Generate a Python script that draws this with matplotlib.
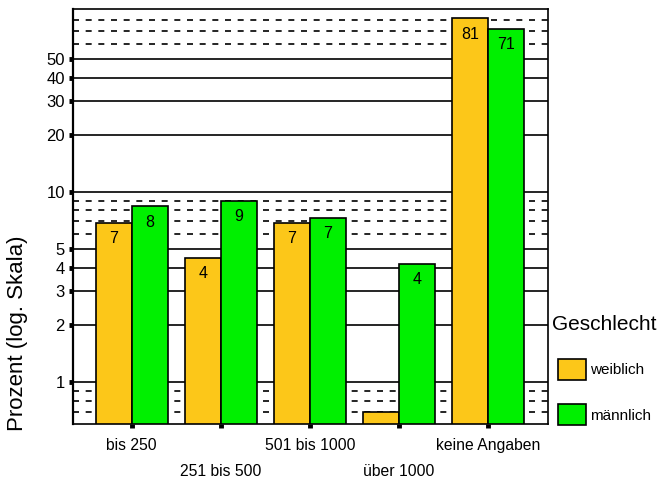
import numpy as np
import matplotlib
matplotlib.use('Agg')
import matplotlib.pyplot as plt
from matplotlib.patches import Patch
from matplotlib.transforms import ScaledTranslation

plt.rcParams['font.family'] = ['Liberation Sans', 'DejaVu Sans']

# Daten
kategorien = ['bis 250', '251 bis 500', '501 bis 1000', 'über 1000', 'keine Angaben']
weiblich = [6.9, 4.5, 6.9, 0.7, 82]
maennlich = [8.4, 9.0, 7.3, 4.2, 72]
weiblich_lbl = ['7', '4', '7', '', '81']
maennlich_lbl = ['8', '9', '7', '4', '71']

y_major = [1, 2, 3, 4, 5, 10, 20, 30, 40, 50]
y_minor = [0.7, 0.8, 0.9, 6, 7, 8, 9, 60, 70, 80]

c_w = '#FCC719'
c_m = '#00F000'

fig = plt.figure(figsize=(6.61, 4.80), dpi=100)
ax = fig.add_axes([0.1109, 0.1160, 0.7175, 0.8658])

x = np.arange(len(kategorien))
w = 0.405
b1 = ax.bar(x - w / 2, weiblich, w, color=c_w, edgecolor='black', linewidth=1.2, zorder=3)
b2 = ax.bar(x + w / 2, maennlich, w, color=c_m, edgecolor='black', linewidth=1.2, zorder=3)

for bars, lbls in [(b1, weiblich_lbl), (b2, maennlich_lbl)]:
    for r, t in zip(bars, lbls):
        if t:
            ax.annotate(t, (r.get_x() + r.get_width() / 2, r.get_height()),
                        xytext=(0, -11.5), textcoords='offset points',
                        ha='center', va='center', fontsize=11.5, zorder=4)

ax.set_yscale('log')
ax.set_ylim(0.6, 92)
ax.set_xlim(-0.656, 4.67)

ax.set_yticks(y_major)
ax.set_yticklabels([str(v) for v in y_major])
ax.set_yticks(y_minor, minor=True)
ax.set_yticklabels([], minor=True)
ax.grid(which='major', axis='y', color='black', linestyle='-', linewidth=1.2, zorder=1)
ax.grid(which='minor', axis='y', color='black', linestyle=(0, (3.6, 4)), linewidth=1.2, zorder=1)
ax.tick_params(axis='y', which='major', length=3, width=3.5, pad=3, labelsize=12)
ax.tick_params(axis='y', which='minor', length=0)

ax.set_xticks(x)
ax.set_xticklabels(kategorien)
ax.tick_params(axis='x', length=3, width=3.5, pad=6.5, labelsize=11.3)
for i, lab in enumerate(ax.get_xticklabels()):
    if i % 2 == 1:
        lab.set_transform(lab.get_transform() + ScaledTranslation(0, -0.265, fig.dpi_scale_trans))

for s in ax.spines.values():
    s.set_color('black')
    s.set_linewidth(1.2)
    s.set_zorder(5)
ax.spines['left'].set_linewidth(1.6)

ax.set_ylabel('Prozent (log. Skala)', fontsize=16)
ax.yaxis.set_label_coords(-0.096, 0.22)

handles = [Patch(facecolor=c_w, edgecolor='black', linewidth=1.2),
           Patch(facecolor=c_m, edgecolor='black', linewidth=1.2)]
leg = fig.legend(handles, ['weiblich', 'männlich'], title='Geschlecht',
                 loc='upper left', bbox_to_anchor=(0.831, 0.351), frameon=False,
                 fontsize=11, title_fontsize=15, alignment='center',
                 handlelength=1.8, handleheight=1.75, handletextpad=0.3,
                 labelspacing=1.6, borderpad=0.2, borderaxespad=0)
leg._legend_box.sep = 18

fig.savefig('out.png', dpi=100)
